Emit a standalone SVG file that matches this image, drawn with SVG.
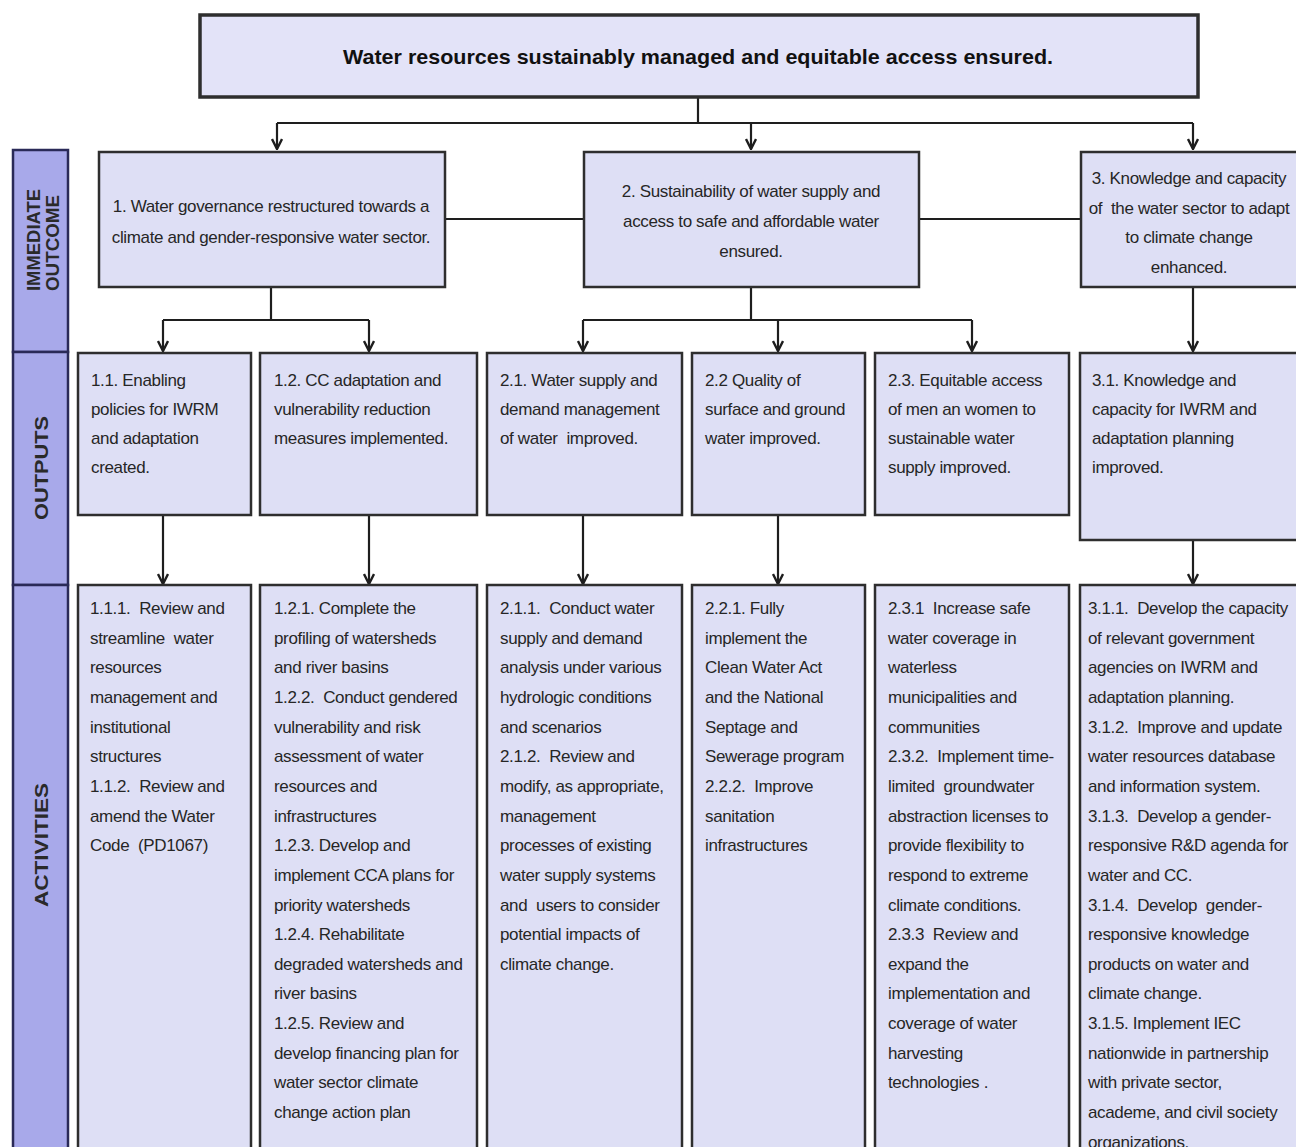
<svg xmlns="http://www.w3.org/2000/svg" width="1296" height="1147" viewBox="0 0 1296 1147">
<defs>
<marker id="arr" viewBox="0 0 12 12" refX="11" refY="6" markerWidth="12" markerHeight="12" markerUnits="userSpaceOnUse" orient="auto">
<path d="M1,1 L11,6 L1,11" fill="none" stroke="#1e1e1e" stroke-width="2.4"/>
</marker>
<style>
.box{fill:#dedff5;stroke:#2e2e2e;stroke-width:2.5}
.top{fill:#e3e3f8;stroke:#2e2e2e;stroke-width:3.5}
.band{fill:#a8a9ea;stroke:#2a2a58;stroke-width:2.5}
.t{font-family:"Liberation Sans",Arial,sans-serif;font-size:17px;letter-spacing:-0.35px;fill:#262626;white-space:pre}
.c{text-anchor:middle}
.lab{font-family:"Liberation Sans",Arial,sans-serif;font-size:18px;font-weight:bold;fill:#2a2a2a;text-anchor:middle}
.ttl{font-family:"Liberation Sans",Arial,sans-serif;font-size:21px;font-weight:bold;fill:#111;text-anchor:middle}
.ln{fill:none;stroke:#1e1e1e;stroke-width:2.2}
</style>
</defs>
<rect width="1296" height="1147" fill="#ffffff"/>

<g id="labels">
<rect class="band" x="13" y="150" width="55" height="202"/>
<rect class="band" x="13" y="352" width="55" height="233"/>
<rect class="band" x="13" y="585" width="55" height="580"/>
<text class="lab" transform="translate(40,240) rotate(-90)" textLength="102" lengthAdjust="spacingAndGlyphs">IMMEDIATE</text>
<text class="lab" transform="translate(59,243) rotate(-90)" textLength="96" lengthAdjust="spacingAndGlyphs">OUTCOME</text>
<text class="lab" transform="translate(48,468) rotate(-90)" textLength="104" lengthAdjust="spacingAndGlyphs">OUTPUTS</text>
<text class="lab" transform="translate(48,845) rotate(-90)" textLength="124" lengthAdjust="spacingAndGlyphs">ACTIVITIES</text>
</g>

<g id="connectors">
<path class="ln" d="M698,97 V123 M277,123 H1193"/>
<path class="ln" d="M277,123 V149" marker-end="url(#arr)"/>
<path class="ln" d="M751,123 V149" marker-end="url(#arr)"/>
<path class="ln" d="M1193,123 V149" marker-end="url(#arr)"/>
<path class="ln" d="M445,219 H584 M919,219 H1081"/>
<path class="ln" d="M271,287 V320 M163,320 H369"/>
<path class="ln" d="M163,320 V351" marker-end="url(#arr)"/>
<path class="ln" d="M369,320 V351" marker-end="url(#arr)"/>
<path class="ln" d="M751,287 V320 M583,320 H972"/>
<path class="ln" d="M583,320 V351" marker-end="url(#arr)"/>
<path class="ln" d="M778,320 V351" marker-end="url(#arr)"/>
<path class="ln" d="M972,320 V351" marker-end="url(#arr)"/>
<path class="ln" d="M1193,287 V351" marker-end="url(#arr)"/>
<path class="ln" d="M163,515 V584" marker-end="url(#arr)"/>
<path class="ln" d="M369,515 V584" marker-end="url(#arr)"/>
<path class="ln" d="M583,515 V584" marker-end="url(#arr)"/>
<path class="ln" d="M778,515 V584" marker-end="url(#arr)"/>
<path class="ln" d="M1193,540 V584" marker-end="url(#arr)"/>
</g>

<g id="goal">
<rect class="top" x="200" y="15" width="998" height="82"/>
<text class="ttl" x="698" y="64" textLength="710" lengthAdjust="spacingAndGlyphs">Water resources sustainably managed and equitable access ensured.</text>
</g>

<g id="outcome1">
<rect class="box" x="99" y="152" width="346" height="135"/>
<text class="t c" y="212"><tspan x="271">1. Water governance restructured towards a</tspan><tspan x="271" dy="31">climate and gender-responsive water sector.</tspan></text>
</g>
<g id="outcome2">
<rect class="box" x="584" y="152" width="335" height="135"/>
<text class="t c" y="197"><tspan x="751">2. Sustainability of water supply and</tspan><tspan x="751" dy="30">access to safe and affordable water</tspan><tspan x="751" dy="30">ensured.</tspan></text>
</g>
<g id="outcome3">
<rect class="box" x="1081" y="152" width="225" height="135"/>
<text class="t c" y="184"><tspan x="1189">3. Knowledge and capacity</tspan><tspan x="1189" dy="29.5">of  the water sector to adapt</tspan><tspan x="1189" dy="29.5">to climate change</tspan><tspan x="1189" dy="29.5">enhanced.</tspan></text>
</g>

<g id="output11">
<rect class="box" x="78" y="353" width="173" height="162"/>
<text class="t" y="386"><tspan x="91">1.1. Enabling</tspan><tspan x="91" dy="29">policies for IWRM</tspan><tspan x="91" dy="29">and adaptation</tspan><tspan x="91" dy="29">created.</tspan></text>
</g>
<g id="output12">
<rect class="box" x="260" y="353" width="217" height="162"/>
<text class="t" y="386"><tspan x="274">1.2. CC adaptation and</tspan><tspan x="274" dy="29">vulnerability reduction</tspan><tspan x="274" dy="29">measures implemented.</tspan></text>
</g>
<g id="output21">
<rect class="box" x="487" y="353" width="195" height="162"/>
<text class="t" y="386"><tspan x="500">2.1. Water supply and</tspan><tspan x="500" dy="29">demand management</tspan><tspan x="500" dy="29">of water  improved.</tspan></text>
</g>
<g id="output22">
<rect class="box" x="692" y="353" width="173" height="162"/>
<text class="t" y="386"><tspan x="705">2.2 Quality of</tspan><tspan x="705" dy="29">surface and ground</tspan><tspan x="705" dy="29">water improved.</tspan></text>
</g>
<g id="output23">
<rect class="box" x="875" y="353" width="194" height="162"/>
<text class="t" y="386"><tspan x="888">2.3. Equitable access</tspan><tspan x="888" dy="29">of men an women to</tspan><tspan x="888" dy="29">sustainable water</tspan><tspan x="888" dy="29">supply improved.</tspan></text>
</g>
<g id="output31">
<rect class="box" x="1080" y="353" width="226" height="187"/>
<text class="t" y="386"><tspan x="1092">3.1. Knowledge and</tspan><tspan x="1092" dy="29">capacity for IWRM and</tspan><tspan x="1092" dy="29">adaptation planning</tspan><tspan x="1092" dy="29">improved.</tspan></text>
</g>

<g id="activity11">
<rect class="box" x="78" y="585" width="173" height="580"/>
<text class="t" y="614"><tspan x="90">1.1.1.  Review and</tspan><tspan x="90" dy="29.65">streamline  water</tspan><tspan x="90" dy="29.65">resources</tspan><tspan x="90" dy="29.65">management and</tspan><tspan x="90" dy="29.65">institutional</tspan><tspan x="90" dy="29.65">structures</tspan><tspan x="90" dy="29.65">1.1.2.  Review and</tspan><tspan x="90" dy="29.65">amend the Water</tspan><tspan x="90" dy="29.65">Code  (PD1067)</tspan></text>
</g>
<g id="activity12">
<rect class="box" x="260" y="585" width="217" height="580"/>
<text class="t" y="614"><tspan x="274">1.2.1. Complete the</tspan><tspan x="274" dy="29.65">profiling of watersheds</tspan><tspan x="274" dy="29.65">and river basins</tspan><tspan x="274" dy="29.65">1.2.2.  Conduct gendered</tspan><tspan x="274" dy="29.65">vulnerability and risk</tspan><tspan x="274" dy="29.65">assessment of water</tspan><tspan x="274" dy="29.65">resources and</tspan><tspan x="274" dy="29.65">infrastructures</tspan><tspan x="274" dy="29.65">1.2.3. Develop and</tspan><tspan x="274" dy="29.65">implement CCA plans for</tspan><tspan x="274" dy="29.65">priority watersheds</tspan><tspan x="274" dy="29.65">1.2.4. Rehabilitate</tspan><tspan x="274" dy="29.65">degraded watersheds and</tspan><tspan x="274" dy="29.65">river basins</tspan><tspan x="274" dy="29.65">1.2.5. Review and</tspan><tspan x="274" dy="29.65">develop financing plan for</tspan><tspan x="274" dy="29.65">water sector climate</tspan><tspan x="274" dy="29.65">change action plan</tspan></text>
</g>
<g id="activity21">
<rect class="box" x="487" y="585" width="195" height="580"/>
<text class="t" y="614"><tspan x="500">2.1.1.  Conduct water</tspan><tspan x="500" dy="29.65">supply and demand</tspan><tspan x="500" dy="29.65">analysis under various</tspan><tspan x="500" dy="29.65">hydrologic conditions</tspan><tspan x="500" dy="29.65">and scenarios</tspan><tspan x="500" dy="29.65">2.1.2.  Review and</tspan><tspan x="500" dy="29.65">modify, as appropriate,</tspan><tspan x="500" dy="29.65">management</tspan><tspan x="500" dy="29.65">processes of existing</tspan><tspan x="500" dy="29.65">water supply systems</tspan><tspan x="500" dy="29.65">and  users to consider</tspan><tspan x="500" dy="29.65">potential impacts of</tspan><tspan x="500" dy="29.65">climate change.</tspan></text>
</g>
<g id="activity22">
<rect class="box" x="692" y="585" width="173" height="580"/>
<text class="t" y="614"><tspan x="705">2.2.1. Fully</tspan><tspan x="705" dy="29.65">implement the</tspan><tspan x="705" dy="29.65">Clean Water Act</tspan><tspan x="705" dy="29.65">and the National</tspan><tspan x="705" dy="29.65">Septage and</tspan><tspan x="705" dy="29.65">Sewerage program</tspan><tspan x="705" dy="29.65">2.2.2.  Improve</tspan><tspan x="705" dy="29.65">sanitation</tspan><tspan x="705" dy="29.65">infrastructures</tspan></text>
</g>
<g id="activity23">
<rect class="box" x="875" y="585" width="194" height="580"/>
<text class="t" y="614"><tspan x="888">2.3.1  Increase safe</tspan><tspan x="888" dy="29.65">water coverage in</tspan><tspan x="888" dy="29.65">waterless</tspan><tspan x="888" dy="29.65">municipalities and</tspan><tspan x="888" dy="29.65">communities</tspan><tspan x="888" dy="29.65">2.3.2.  Implement time-</tspan><tspan x="888" dy="29.65">limited  groundwater</tspan><tspan x="888" dy="29.65">abstraction licenses to</tspan><tspan x="888" dy="29.65">provide flexibility to</tspan><tspan x="888" dy="29.65">respond to extreme</tspan><tspan x="888" dy="29.65">climate conditions.</tspan><tspan x="888" dy="29.65">2.3.3  Review and</tspan><tspan x="888" dy="29.65">expand the</tspan><tspan x="888" dy="29.65">implementation and</tspan><tspan x="888" dy="29.65">coverage of water</tspan><tspan x="888" dy="29.65">harvesting</tspan><tspan x="888" dy="29.65">technologies .</tspan></text>
</g>
<g id="activity31">
<rect class="box" x="1080" y="585" width="226" height="580"/>
<text class="t" y="614"><tspan x="1088">3.1.1.  Develop the capacity</tspan><tspan x="1088" dy="29.65">of relevant government</tspan><tspan x="1088" dy="29.65">agencies on IWRM and</tspan><tspan x="1088" dy="29.65">adaptation planning.</tspan><tspan x="1088" dy="29.65">3.1.2.  Improve and update</tspan><tspan x="1088" dy="29.65">water resources database</tspan><tspan x="1088" dy="29.65">and information system.</tspan><tspan x="1088" dy="29.65">3.1.3.  Develop a gender-</tspan><tspan x="1088" dy="29.65">responsive R&amp;D agenda for</tspan><tspan x="1088" dy="29.65">water and CC.</tspan><tspan x="1088" dy="29.65">3.1.4.  Develop  gender-</tspan><tspan x="1088" dy="29.65">responsive knowledge</tspan><tspan x="1088" dy="29.65">products on water and</tspan><tspan x="1088" dy="29.65">climate change.</tspan><tspan x="1088" dy="29.65">3.1.5. Implement IEC</tspan><tspan x="1088" dy="29.65">nationwide in partnership</tspan><tspan x="1088" dy="29.65">with private sector,</tspan><tspan x="1088" dy="29.65">academe, and civil society</tspan><tspan x="1088" dy="29.65">organizations.</tspan></text>
</g>
</svg>
